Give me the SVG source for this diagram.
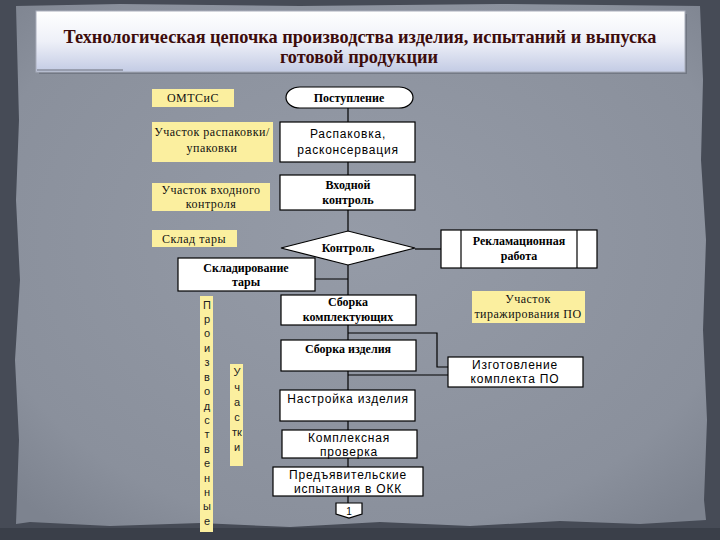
<svg xmlns="http://www.w3.org/2000/svg" width="720" height="540" viewBox="0 0 720 540">
  <defs>
    <linearGradient id="titleGrad" x1="0" y1="0" x2="0" y2="1">
      <stop offset="0" stop-color="#ffffff"/>
      <stop offset="0.5" stop-color="#eef0f8"/>
      <stop offset="1" stop-color="#c3cbe4"/>
    </linearGradient>
    <radialGradient id="paperGrad" cx="0.5" cy="0.45" r="0.7">
      <stop offset="0" stop-color="#959ba7"/>
      <stop offset="0.8" stop-color="#8a909c"/>
      <stop offset="1" stop-color="#7d838f"/>
    </radialGradient>
    <style>
      .box { fill: #ffffff; stroke: #000000; stroke-width: 1.2; }
      .note { fill: #fbef9f; stroke: none; }
      .conn { fill: none; stroke: #000000; stroke-width: 1.2; }
      .serifB { font-family: "Liberation Serif", "DejaVu Serif", serif; font-weight: bold; font-size: 12px; fill: #000; text-anchor: middle; }
      .serif { font-family: "Liberation Serif", "DejaVu Serif", serif; font-size: 12px; fill: #111; text-anchor: middle; letter-spacing: 0.5px; }
      .sans { font-family: "Liberation Sans", Arial, sans-serif; font-size: 12px; fill: #000; text-anchor: middle; letter-spacing: 0.8px; }
      .vert { font-family: "Liberation Sans", Arial, sans-serif; font-size: 11px; fill: #222; text-anchor: middle; }
      .title { font-family: "Liberation Serif", "DejaVu Serif", serif; font-weight: bold; font-size: 19px; fill: #3d0c0c; text-anchor: middle; }
    </style>
  </defs>

  <!-- background -->
  <rect x="0" y="0" width="720" height="540" fill="#464b56"/>
  <path d="M16,6 L120,4 L300,6 L500,4 L700,6 L703,80 L701,160 L706,240 L703,330 L707,420 L704,500 L706,520 L640,524 L560,521 L470,526 L380,522 L290,527 L200,523 L110,526 L30,522 L16,524 L19,440 L15,360 L20,280 L16,200 L19,120 Z" fill="url(#paperGrad)"/>
  <rect x="0" y="528" width="720" height="12" fill="#3a3f49"/>

  <!-- title -->
  <g id="title">
    <rect x="39" y="14" width="648" height="60" fill="#5a606c" opacity="0.5"/>
    <rect x="36" y="11" width="649" height="61" fill="url(#titleGrad)" stroke="#a9aebb" stroke-width="1"/>
    <line x1="37" y1="70" x2="123" y2="70" stroke="#6a6e78" stroke-width="1"/>
    <text class="title" x="360" y="43" textLength="593" lengthAdjust="spacingAndGlyphs">Технологическая  цепочка производства изделия, испытаний и выпуска</text>
    <text class="title" x="359" y="63" textLength="158" lengthAdjust="spacingAndGlyphs">готовой продукции</text>
  </g>

  <!-- connectors -->
  <g id="connectors">
    <line class="conn" x1="348" y1="108" x2="348" y2="503"/>
    <line class="conn" x1="315" y1="279" x2="348" y2="279"/>
    <line class="conn" x1="415" y1="249" x2="441" y2="249"/>
    <polyline class="conn" points="348,333 437,333 437,367 448,367"/>
    <line class="conn" x1="348" y1="375" x2="448" y2="375"/>
  </g>

  <!-- left labels -->
  <g id="omtsis">
    <rect class="note" x="152" y="89" width="82" height="18"/>
    <text class="serif" x="193" y="102">ОМТСиС</text>
  </g>
  <g id="uch-raspak">
    <rect class="note" x="152" y="122" width="121" height="40"/>
    <text class="serif" x="212" y="136">Участок распаковки/</text>
    <text class="serif" x="212" y="152">упаковки</text>
  </g>
  <g id="uch-vhod">
    <rect class="note" x="152" y="183" width="118" height="28"/>
    <text class="serif" x="211" y="194">Участок входного</text>
    <text class="serif" x="211" y="208">контроля</text>
  </g>
  <g id="sklad-tary">
    <rect class="note" x="152" y="230" width="85" height="17"/>
    <text class="serif" x="194" y="243">Склад тары</text>
  </g>
  <g id="proizv">
    <rect class="note" x="200" y="296" width="13" height="236"/>
    <text class="vert" x="207" y="309">П</text>
    <text class="vert" x="207" y="323">р</text>
    <text class="vert" x="207" y="337">о</text>
    <text class="vert" x="207" y="352">и</text>
    <text class="vert" x="207" y="366">з</text>
    <text class="vert" x="207" y="381">в</text>
    <text class="vert" x="207" y="395">о</text>
    <text class="vert" x="207" y="410">д</text>
    <text class="vert" x="207" y="424">с</text>
    <text class="vert" x="207" y="438">т</text>
    <text class="vert" x="207" y="453">в</text>
    <text class="vert" x="207" y="467">е</text>
    <text class="vert" x="207" y="482">н</text>
    <text class="vert" x="207" y="496">н</text>
    <text class="vert" x="207" y="510">ы</text>
    <text class="vert" x="207" y="525">е</text>
  </g>
  <g id="uchastki">
    <rect class="note" x="230" y="364" width="13" height="102"/>
    <text class="vert" x="237" y="376">У</text>
    <text class="vert" x="237" y="391">ч</text>
    <text class="vert" x="237" y="406">а</text>
    <text class="vert" x="237" y="421">с</text>
    <text class="vert" x="237" y="436">тк</text>
    <text class="vert" x="237" y="451">и</text>
  </g>

  <!-- main flow -->
  <g id="postuplenie">
    <rect class="box" x="286" y="87" width="127" height="21" rx="14" ry="10.5"/>
    <text class="serifB" x="349" y="102">Поступление</text>
  </g>
  <g id="raspakovka">
    <rect class="box" x="280" y="122" width="135" height="40"/>
    <text class="sans" x="348" y="138">Распаковка,</text>
    <text class="sans" x="348" y="154">расконсервация</text>
  </g>
  <g id="vhodnoy">
    <rect class="box" x="280" y="175" width="135" height="35"/>
    <text class="serifB" x="348" y="189">Входной</text>
    <text class="serifB" x="348" y="204">контроль</text>
  </g>
  <g id="kontrol">
    <polygon class="box" points="281,248 348,231 415,248 348,265"/>
    <text class="serifB" x="348" y="252">Контроль</text>
  </g>
  <g id="reklamac">
    <rect class="box" x="441" y="230" width="156" height="38"/>
    <line class="conn" x1="461" y1="230" x2="461" y2="268"/>
    <line class="conn" x1="577" y1="230" x2="577" y2="268"/>
    <text class="serifB" x="519" y="245">Рекламационная</text>
    <text class="serifB" x="519" y="260">работа</text>
  </g>
  <g id="skladirovanie">
    <rect class="box" x="178" y="258" width="137" height="33"/>
    <text class="serifB" x="246" y="272">Складирование</text>
    <text class="serifB" x="246" y="286">тары</text>
  </g>
  <g id="sborka-kompl">
    <rect class="box" x="281" y="295" width="135" height="30"/>
    <text class="serifB" x="348" y="306">Сборка</text>
    <text class="serifB" x="348" y="321">комплектующих</text>
  </g>
  <g id="tirazh">
    <rect class="note" x="472" y="291" width="113" height="32"/>
    <text class="serif" x="528" y="303">Участок</text>
    <text class="serif" x="528" y="318">тиражирования ПО</text>
  </g>
  <g id="sborka-izd">
    <rect class="box" x="281" y="340" width="135" height="31"/>
    <text class="serifB" x="348" y="353">Сборка изделия</text>
  </g>
  <g id="izgotovlenie">
    <rect class="box" x="448" y="357" width="135" height="30"/>
    <text class="sans" x="515" y="369">Изготовление</text>
    <text class="sans" x="515" y="383">комплекта ПО</text>
  </g>
  <g id="nastroika">
    <rect class="box" x="280" y="390" width="135" height="31"/>
    <text class="sans" x="348" y="403">Настройка изделия</text>
  </g>
  <g id="kompleks">
    <rect class="box" x="282" y="430" width="135" height="28"/>
    <text class="sans" x="349" y="442">Комплексная</text>
    <text class="sans" x="349" y="456">проверка</text>
  </g>
  <g id="predyav">
    <rect class="box" x="273" y="467" width="150" height="29"/>
    <text class="sans" x="348" y="479">Предъявительские</text>
    <text class="sans" x="348" y="493">испытания в ОКК</text>
  </g>
  <g id="offpage">
    <polygon class="box" points="336,503 362,503 362,514 349,518 336,514"/>
    <text class="sans" x="349" y="515" style="font-size:10px;letter-spacing:0">1</text>
  </g>
</svg>
